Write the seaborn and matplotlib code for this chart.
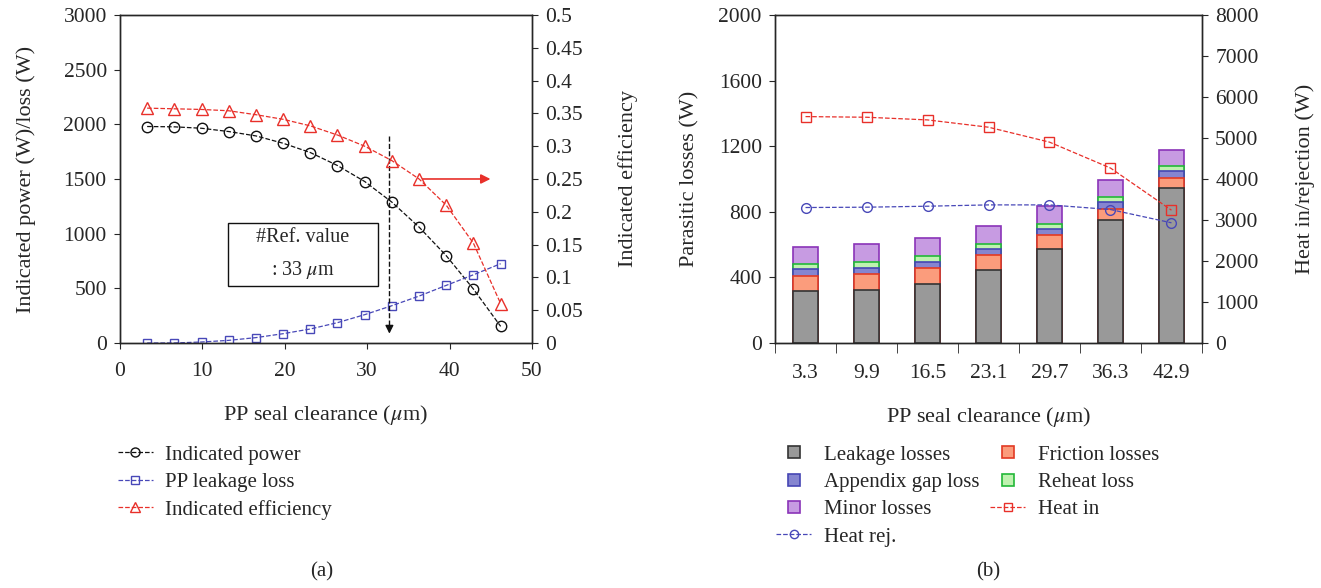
import matplotlib
matplotlib.use("Agg")
import matplotlib.pyplot as plt
import seaborn as sns
import numpy as np
import pandas as pd
from matplotlib.lines import Line2D
from matplotlib.patches import Rectangle
from matplotlib.ticker import FormatStrFormatter

# ---- panel (a) data ----
clearance_a = [3.3, 6.6, 9.9, 13.2, 16.5, 19.8, 23.1, 26.4, 29.7, 33.0, 36.3, 39.6, 42.9, 46.2]
indicated_power = [1980, 1977, 1964, 1934, 1894, 1827, 1742, 1623, 1477, 1288, 1060, 798, 493, 152]
pp_leakage_loss = [0, 0, 9, 24, 49, 85, 128, 186, 259, 341, 429, 527, 624, 725]
indicated_eff = [0.358, 0.357, 0.356, 0.354, 0.348, 0.341, 0.331, 0.317, 0.300, 0.278,
                 0.250, 0.210, 0.152, 0.060]

# ---- panel (b) data ----
clearance_b = ["3.3", "9.9", "16.5", "23.1", "29.7", "36.3", "42.9"]
leakage_losses = [314, 324, 360, 445, 575, 749, 947]
friction_losses = [95, 95, 95, 89, 81, 71, 59]
appendix_gap_loss = [40, 41, 41, 39, 40, 40, 43]
reheat_loss = [33, 32, 32, 32, 31, 31, 28]
minor_losses = [105, 109, 110, 108, 109, 105, 101]
heat_in = [5522, 5506, 5441, 5263, 4899, 4267, 3239]
heat_rej = [3304, 3312, 3336, 3368, 3368, 3255, 2931]

sns.set_style("ticks")
plt.rcParams['font.family'] = ['Liberation Serif', 'DejaVu Serif']
plt.rcParams['mathtext.fontset'] = 'stix'
plt.rcParams['axes.linewidth'] = 1.0
plt.rcParams['xtick.direction'] = 'out'
plt.rcParams['ytick.direction'] = 'out'
plt.rcParams['xtick.major.size'] = 4.5
plt.rcParams['ytick.major.size'] = 4.5

TICK_FS = 15.5
LABEL_FS = 16
LEG_FS = 15

BLACK = '#111111'
BLUE = '#4848b8'
RED = '#e8302a'

fig = plt.figure(figsize=(13.21, 5.88), dpi=100)

# ================= panel (a) =================
ax1 = fig.add_axes([0.0908, 0.4167, 0.3119, 0.5578])
ax1r = ax1.twinx()

sns.lineplot(x=clearance_a, y=indicated_power, ax=ax1, color=BLACK, linestyle='--', lw=0.9,
             marker='o', markersize=7.5, markerfacecolor='none', markeredgecolor=BLACK,
             markeredgewidth=1.0)
sns.lineplot(x=clearance_a, y=pp_leakage_loss, ax=ax1, color=BLUE, linestyle='--', lw=0.9,
             marker='s', markersize=6, markerfacecolor='none', markeredgecolor=BLUE,
             markeredgewidth=1.0)
sns.lineplot(x=clearance_a, y=indicated_eff, ax=ax1r, color=RED, linestyle='--', lw=0.9,
             marker='^', markersize=8.5, markerfacecolor='none', markeredgecolor=RED,
             markeredgewidth=1.0)

ax1.set_xlim(0, 50)
ax1.set_ylim(0, 3000)
ax1r.set_ylim(0, 0.5)
ax1.set_xticks(np.arange(0, 51, 10))
ax1.set_yticks(np.arange(0, 3001, 500))
ax1r.set_yticks(np.arange(0, 0.501, 0.05))
ax1r.yaxis.set_major_formatter(FormatStrFormatter('%g'))
for a in (ax1, ax1r):
    a.tick_params(labelsize=TICK_FS, pad=5)
ax1.tick_params(axis='x', pad=9)
ax1.set_xlabel(r'PP seal clearance ($\mu$m)', fontsize=LABEL_FS, labelpad=16)
ax1.set_ylabel('Indicated power (W)/loss (W)', fontsize=LABEL_FS, labelpad=20)
ax1r.set_ylabel('Indicated efficiency', fontsize=LABEL_FS, labelpad=25)

# reference value marker
ax1.plot([32.7, 32.7], [1895, 150], color=BLACK, linestyle='--', lw=1.0)
ax1.annotate('', xy=(32.7, 60), xytext=(32.7, 170),
             arrowprops=dict(arrowstyle='-|>', color=BLACK, lw=1.0, mutation_scale=12))
ax1r.annotate('', xy=(45.3, 0.25), xytext=(36.4, 0.25),
              arrowprops=dict(arrowstyle='-|>', color=RED, lw=1.2, mutation_scale=14))
ax1.add_patch(Rectangle((13.1, 524), 18.2, 572, fill=False, ec=BLACK, lw=1.0, zorder=5))
ax1.text(22.2, 810, '#Ref. value\n: 33 $\\mu$m', ha='center', va='center', fontsize=14.5,
         linespacing=1.7, zorder=6)

leg_kw = dict(loc='upper left', frameon=False, fontsize=LEG_FS, handlelength=1.7,
              handletextpad=0.6, labelspacing=0.37, borderpad=0, borderaxespad=0)

leg_a = [
    Line2D([], [], color=BLACK, ls='--', lw=0.9, marker='o', ms=6.5, mfc='none', mec=BLACK),
    Line2D([], [], color=BLUE, ls='--', lw=0.9, marker='s', ms=6, mfc='none', mec=BLUE),
    Line2D([], [], color=RED, ls='--', lw=0.9, marker='^', ms=7.5, mfc='none', mec=RED),
]
fig.legend(leg_a, ['Indicated power', 'PP leakage loss', 'Indicated efficiency'],
           bbox_to_anchor=(0.089, 0.243), **leg_kw)

fig.text(322 / 1321, 1 - 572 / 588, '(a)', ha='center', va='center', fontsize=LEG_FS)

# ================= panel (b) =================
ax2 = fig.add_axes([0.5867, 0.4167, 0.3232, 0.5578])
ax2r = ax2.twinx()

layers = [
    ('Leakage losses', leakage_losses, '#999999', '#333333'),
    ('Friction losses', friction_losses, '#fb9c7c', '#e23a24'),
    ('Appendix gap loss', appendix_gap_loss, '#8585d0', '#4646b4'),
    ('Reheat loss', reheat_loss, '#bff2b0', '#22b838'),
    ('Minor losses', minor_losses, '#c79be2', '#8a33b8'),
]
cum = np.cumsum(np.array([l[1] for l in layers]), axis=0)
# stacked bars: draw running totals from the top layer down
for i in range(len(layers) - 1, -1, -1):
    name, vals, fc, ec = layers[i]
    df = pd.DataFrame({'clearance': clearance_b, 'total': cum[i]})
    sns.barplot(data=df, x='clearance', y='total', ax=ax2, color=fc, edgecolor=ec,
                linewidth=1.2, width=0.41, saturation=1, errorbar=None)

pos = np.arange(len(clearance_b))
sns.lineplot(x=pos, y=heat_in, ax=ax2r, color=RED, linestyle='--', lw=0.9,
             marker='s', markersize=7, markerfacecolor='none', markeredgecolor=RED,
             markeredgewidth=1.0)
sns.lineplot(x=pos, y=heat_rej, ax=ax2r, color=BLUE, linestyle='--', lw=0.9,
             marker='o', markersize=7, markerfacecolor='none', markeredgecolor=BLUE,
             markeredgewidth=1.0)

ax2.set_xlim(-0.5, len(clearance_b) - 0.5)
ax2.set_ylim(0, 2000)
ax2r.set_ylim(0, 8000)
ax2.set_yticks(np.arange(0, 2001, 400))
ax2r.set_yticks(np.arange(0, 8001, 1000))
ax2.set_xticks(pos, clearance_b)
ax2.set_xticks(np.arange(-0.5, len(clearance_b)), minor=True)
for a in (ax2, ax2r):
    a.tick_params(labelsize=TICK_FS, pad=5)
ax2.tick_params(axis='x', which='major', length=0, pad=15)
ax2.tick_params(axis='x', which='minor', length=7, direction='out')
ax2.set_xlabel(r'PP seal clearance ($\mu$m)', fontsize=LABEL_FS, labelpad=16)
ax2.set_ylabel('Parasitic losses (W)', fontsize=LABEL_FS, labelpad=14)
ax2r.set_ylabel('Heat in/rejection (W)', fontsize=LABEL_FS, labelpad=26)


def box_handle(fc, ec):
    return Line2D([], [], ls='None', marker='s', ms=9, mfc=fc, mec=ec, mew=1.2)


col1 = [box_handle(layers[0][2], layers[0][3]),
        box_handle(layers[2][2], layers[2][3]),
        box_handle(layers[4][2], layers[4][3]),
        Line2D([], [], color=BLUE, ls='--', lw=0.9, marker='o', ms=6, mfc='none', mec=BLUE)]
col2 = [box_handle(layers[1][2], layers[1][3]),
        box_handle(layers[3][2], layers[3][3]),
        Line2D([], [], color=RED, ls='--', lw=0.9, marker='s', ms=6, mfc='none', mec=RED)]
fig.legend(col1, ['Leakage losses', 'Appendix gap loss', 'Minor losses', 'Heat rej.'],
           bbox_to_anchor=(776 / 1321, 0.243), **leg_kw)
fig.legend(col2, ['Friction losses', 'Reheat loss', 'Heat in'],
           bbox_to_anchor=(990 / 1321, 0.243), **leg_kw)

fig.text(988 / 1321, 1 - 572 / 588, '(b)', ha='center', va='center', fontsize=LEG_FS)

fig.savefig('out.png', dpi=100, facecolor='white')
